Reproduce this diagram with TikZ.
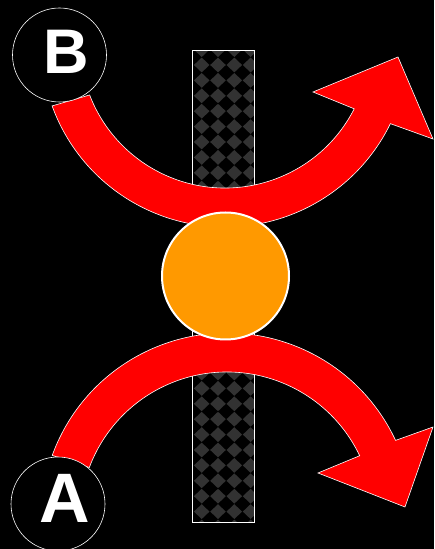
\documentclass[tikz,border=0pt]{standalone}
\usepackage{fontspec}
\setmainfont{Liberation Sans}
\usetikzlibrary{calc}

\definecolor{arrowred}{RGB}{255,0,0}
\definecolor{ballorange}{RGB}{255,153,0}
\definecolor{tilegray}{RGB}{50,50,50}

\begin{document}
\begin{tikzpicture}[x=1pt,y=1pt,
		redarrow/.style={fill=arrowred, draw=white, line width=0.6pt},
		endcircle/.style={circle, draw=white, line width=0.6pt, fill=black, minimum size=94pt, inner sep=0pt},
		letter/.style={text=white, inner sep=0pt, font=\bfseries}]
			\fill[black] (0,0) rectangle (434,549);
			\useasboundingbox (0,0) rectangle (434,549);
			% checkered bar
			\begin{scope}
				\clip (192,26) rectangle (254,498);
				\foreach \i in {-1,...,4}
					\foreach \j in {-1,...,32} {
						\pgfmathsetmacro{\cx}{201.7+16.3*\i}
						\pgfmathsetmacro{\cy}{484-15.4*\j}
						\fill[tilegray] (\cx-7.8,\cy) -- ++(7.8,7.4) -- ++(7.8,-7.4) -- ++(-7.8,-7.4) -- cycle;
					}
			\end{scope}
			\draw[white, line width=1pt] (192,26) rectangle (254,498);
			% arrows
			\coordinate (C1) at (225,506);
			\coordinate (C2) at (227,30);
			\draw[redarrow] ($(C1)+(-160:184)$) arc[start angle=-160, end angle=-26, radius=184]
				-- (433,410) -- (398,492) -- (313,457)
				-- ($(C1)+(-27:145)$) arc[start angle=-27, end angle=-159, radius=145] -- cycle;
			\draw[redarrow] ($(C2)+(160:186)$) arc[start angle=160, end angle=25, radius=186]
				-- (433,122) -- (405,42) -- (318,76)
				-- ($(C2)+(25.5:147)$) arc[start angle=25.5, end angle=159.5, radius=147] -- cycle;
			% circles
			\node[endcircle] (circB) at (59.5,494) {};
			\node[endcircle] (circA) at (58,45) {};
			\node[letter, font=\bfseries\fontsize{63}{63}\selectfont] (labB) at (66.5,497) {B};
			\node[letter, font=\bfseries\fontsize{70}{70}\selectfont] (labA) at (64.5,51) {A};
			\node[circle, fill=ballorange, draw=white, line width=2pt, minimum size=127pt, inner sep=0pt] (ball) at (225.5,273) {};
		\end{tikzpicture}
\end{document}
